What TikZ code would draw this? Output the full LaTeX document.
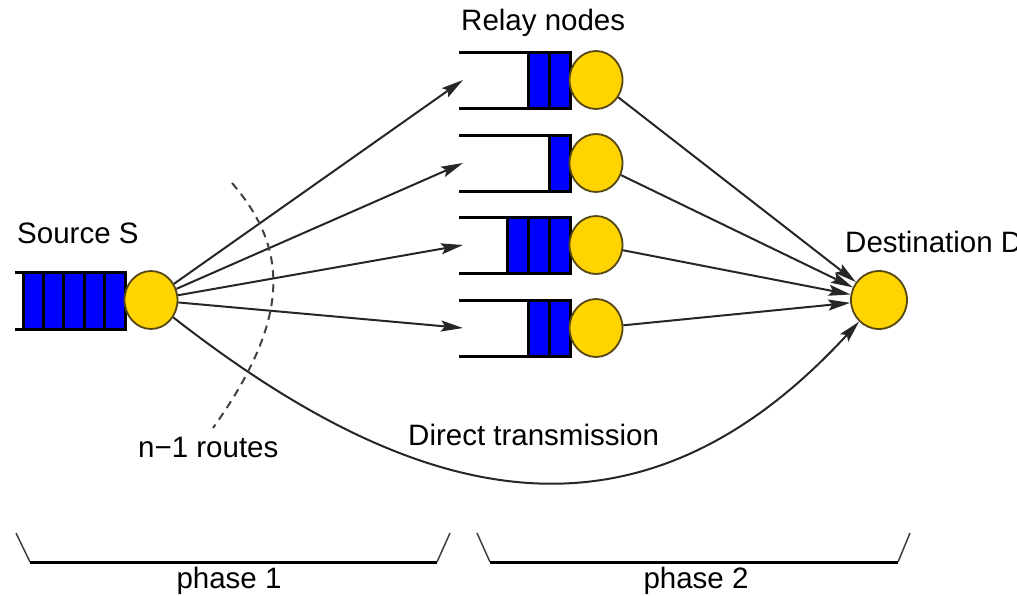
\documentclass[tikz,border=0pt]{standalone}
\usepackage{fontspec}
\setmainfont{Liberation Sans}
\usetikzlibrary{arrows.meta,shapes.geometric}
\definecolor{qblue}{RGB}{0,0,255}
\definecolor{gold}{RGB}{255,212,0}
\definecolor{rim}{RGB}{85,72,20}
\begin{document}
\begin{tikzpicture}[x=1pt,y=-1pt,
  station/.style={ellipse, draw=rim, fill=gold, line width=1.8pt, minimum width=53pt, minimum height=58pt, inner sep=0pt},
  link/.style={line width=2pt, draw=black!85, -{Stealth[length=22pt,width=11pt,inset=4pt]}},
  qline/.style={line width=3pt},
  cell/.style={fill=qblue, draw=black, line width=3pt},
  lbl/.style={font=\fontsize{29.5}{33}\selectfont, inner sep=0pt},
  routes/.style={line width=2pt, draw=black!75, dash pattern=on 8pt off 6pt},
  bracebottom/.style={line width=3pt},
  braceside/.style={line width=1.5pt, draw=black!75}]
\useasboundingbox (0,0) rectangle (1017,595);

% source queue and node
\draw[qline] (15,272.7) -- (125,272.7);
\draw[qline] (15,329) -- (125,329);
\foreach \i in {0,...,4}
  \draw[cell] (23+20.4*\i,272.7) rectangle ++(20.4,56.3);
\node[station] (src) at (151,300) {};

% relay queues and nodes
\foreach \c/\n [count=\k] in {80/2,163/1,245/3,328/2} {
  \draw[qline] (459,\c-28) -- (570,\c-28);
  \draw[qline] (459,\c+28) -- (570,\c+28);
  \foreach \j in {1,...,\n}
    \draw[cell] (570-20.8*\j,\c-28) rectangle ++(20.8,56);
  \node[station] (r\k) at (596,\c) {};
  \coordinate (q\k) at (463,\c);
}

% destination
\node[station, minimum width=56pt] (dst) at (879,300) {};

% links
\foreach \k in {1,...,4} {
  \draw[link] (src) -- (q\k);
  \draw[link] (r\k) -- (dst);
}
\draw[link] (src) .. controls (420,510) and (640,560) .. (dst);

% routes arc
\coordinate (arcA) at (232,183);
\coordinate (arcB) at (213,428);
\draw[routes] (arcA) .. controls (290,250) and (290,320) .. (arcB);

% labels
\node[lbl, anchor=base west] (lrelay) at (461,30) {Relay nodes};
\node[lbl, anchor=base west] (lsrc) at (17,243) {Source S};
\node[lbl, anchor=base west] (ldst) at (845,252) {Destination D};
\node[lbl, anchor=base west] (ldirect) at (408,445) {Direct transmission};
\node[lbl, anchor=base west] (lroutes) at (138,457) {n−1 routes};

% phase braces
\coordinate (b1a) at (16,533); \coordinate (b1b) at (30,562);
\coordinate (b1c) at (437,562); \coordinate (b1d) at (450,533);
\coordinate (b2a) at (477,533); \coordinate (b2b) at (490,562);
\coordinate (b2c) at (898,562); \coordinate (b2d) at (910,533);
\draw[braceside] (b1a) -- (b1b);
\draw[bracebottom] (b1b) -- (b1c);
\draw[braceside] (b1c) -- (b1d);
\draw[braceside] (b2a) -- (b2b);
\draw[bracebottom] (b2b) -- (b2c);
\draw[braceside] (b2c) -- (b2d);
\node[lbl, anchor=base] (lp1) at (229,588) {phase 1};
\node[lbl, anchor=base] (lp2) at (696,588) {phase 2};
\end{tikzpicture}
\end{document}
